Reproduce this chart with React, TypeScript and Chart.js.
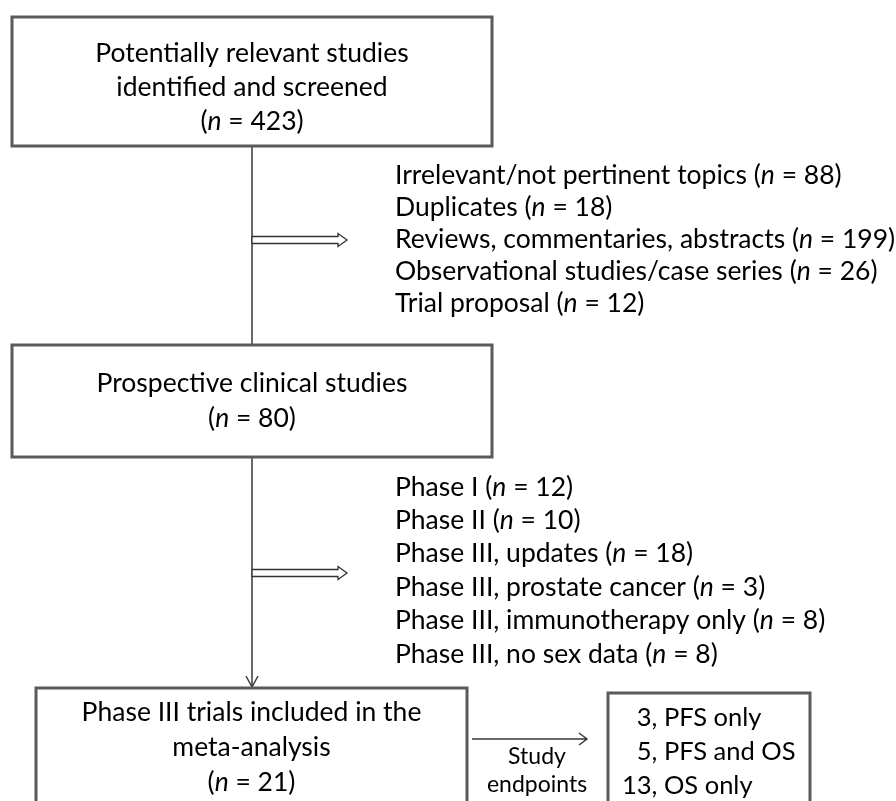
import React, { useEffect, useRef } from 'react';
import { Chart, registerables } from 'chart.js';
Chart.register(...registerables);

// ---- Data ----
const STAGE_LABELS: string[][] = [
  ['Potentially relevant studies', 'identified and screened'],
  ['Prospective clinical studies'],
  ['Phase III trials included in the', 'meta-analysis'],
];
const STAGE_N = [423, 80, 21];

const EXCLUDED_1_LABELS = [
  'Irrelevant/not pertinent topics',
  'Duplicates',
  'Reviews, commentaries, abstracts',
  'Observational studies/case series',
  'Trial proposal',
];
const EXCLUDED_1_N = [88, 18, 199, 26, 12];

const EXCLUDED_2_LABELS = [
  'Phase I',
  'Phase II',
  'Phase III, updates',
  'Phase III, prostate cancer',
  'Phase III, immunotherapy only',
  'Phase III, no sex data',
];
const EXCLUDED_2_N = [12, 10, 18, 3, 8, 8];

const ENDPOINT_N = [3, 5, 13];
const ENDPOINT_LABELS = ['PFS only', 'PFS and OS', 'OS only'];
const ENDPOINT_CAPTION = ['Study', 'endpoints'];

// ---- Layout (in scale units) ----
const W = 896;
const H = 801;
const FONT = 'Lato, "Open Sans", sans-serif';
const MAIN_SIZE = 26.5;
const STAGE_BOXES = [
  { x0: 12, x1: 492, y0: 17, y1: 146, firstLine: 53, lineH: 34 },
  { x0: 12, x1: 492, y0: 345, y1: 457, firstLine: 383, lineH: 35 },
  { x0: 36, x1: 467, y0: 688, y1: 840, firstLine: 712, lineH: 35 },
];
const ENDPOINT_BOX = { x0: 608, x1: 810, y0: 693, y1: 840, firstLine: 718, lineH: 34 };
const LIST1 = { x: 395, y: 175, lineH: 32 };
const LIST2 = { x: 395, y: 487, lineH: 33.4 };
const SPINE_X = 252;

function nText(n: number) {
  return '(*n* = ' + n + ')';
}

function drawRich(ctx: CanvasRenderingContext2D, str: string, x: number, y: number, align: 'left' | 'center' | 'right', size: number) {
  const segs = str.split('*');
  const widths: number[] = [];
  let total = 0;
  segs.forEach((s, i) => {
    ctx.font = (i % 2 === 1 ? 'italic ' : '') + size + 'px ' + FONT;
    const w = ctx.measureText(s).width;
    widths.push(w);
    total += w;
  });
  let cx = align === 'left' ? x : align === 'center' ? x - total / 2 : x - total;
  ctx.textAlign = 'left';
  ctx.textBaseline = 'middle';
  ctx.fillStyle = '#000';
  segs.forEach((s, i) => {
    ctx.font = (i % 2 === 1 ? 'italic ' : '') + size + 'px ' + FONT;
    ctx.fillText(s, cx, y);
    cx += widths[i];
  });
}

const flowPlugin = {
  id: 'flow',
  afterDraw(chart: any) {
    const ctx: CanvasRenderingContext2D = chart.ctx;
    const sx = chart.scales.x;
    const sy = chart.scales.y;
    const px = (v: number) => sx.getPixelForValue(v);
    const py = (v: number) => sy.getPixelForValue(v);
    ctx.save();
    ctx.fillStyle = '#fff';
    ctx.fillRect(0, 0, chart.width, chart.height);

    // connectors
    ctx.strokeStyle = '#3a3a3a';
    ctx.lineWidth = 1.5;
    ctx.beginPath();
    ctx.moveTo(px(SPINE_X), py(STAGE_BOXES[0].y1));
    ctx.lineTo(px(SPINE_X), py(STAGE_BOXES[1].y0));
    ctx.moveTo(px(SPINE_X), py(STAGE_BOXES[1].y1));
    ctx.lineTo(px(SPINE_X), py(STAGE_BOXES[2].y0 - 1));
    ctx.stroke();
    // arrowhead (open V)
    ctx.beginPath();
    ctx.moveTo(px(SPINE_X - 6), py(STAGE_BOXES[2].y0 - 12));
    ctx.lineTo(px(SPINE_X), py(STAGE_BOXES[2].y0 - 1));
    ctx.lineTo(px(SPINE_X + 6), py(STAGE_BOXES[2].y0 - 12));
    ctx.stroke();

    // hollow block arrows
    const block = (yc: number) => {
      ctx.beginPath();
      ctx.moveTo(px(SPINE_X), py(yc - 3.5));
      ctx.lineTo(px(338), py(yc - 3.5));
      ctx.lineTo(px(338), py(yc - 6.5));
      ctx.lineTo(px(347), py(yc));
      ctx.lineTo(px(338), py(yc + 6.5));
      ctx.lineTo(px(338), py(yc + 3.5));
      ctx.lineTo(px(SPINE_X), py(yc + 3.5));
      ctx.closePath();
      ctx.fillStyle = '#fff';
      ctx.fill();
      ctx.strokeStyle = '#333';
      ctx.lineWidth = 1.3;
      ctx.stroke();
    };
    block(240);
    block(573);

    // horizontal arrow to endpoints
    ctx.strokeStyle = '#3a3a3a';
    ctx.lineWidth = 1.5;
    ctx.beginPath();
    ctx.moveTo(px(472), py(739));
    ctx.lineTo(px(587), py(739));
    ctx.moveTo(px(579), py(733));
    ctx.lineTo(px(587), py(739));
    ctx.lineTo(px(579), py(745));
    ctx.stroke();

    // boxes
    ctx.strokeStyle = '#5a5a5a';
    ctx.lineWidth = 3;
    [...STAGE_BOXES, ENDPOINT_BOX].forEach((b) => {
      ctx.strokeRect(px(b.x0), py(b.y0), px(b.x1) - px(b.x0), py(b.y1) - py(b.y0));
    });

    // stage texts
    STAGE_BOXES.forEach((b, i) => {
      const lines = [...STAGE_LABELS[i], nText(STAGE_N[i])];
      const cx = (b.x0 + b.x1) / 2;
      lines.forEach((l, j) => drawRich(ctx, l, px(cx), py(b.firstLine + j * b.lineH), 'center', MAIN_SIZE));
    });

    // exclusion lists
    EXCLUDED_1_LABELS.forEach((l, i) => {
      drawRich(ctx, l + ' ' + nText(EXCLUDED_1_N[i]), px(LIST1.x), py(LIST1.y + i * LIST1.lineH), 'left', MAIN_SIZE);
    });
    EXCLUDED_2_LABELS.forEach((l, i) => {
      drawRich(ctx, l + ' ' + nText(EXCLUDED_2_N[i]), px(LIST2.x), py(LIST2.y + i * LIST2.lineH), 'left', MAIN_SIZE);
    });

    // caption
    ENDPOINT_CAPTION.forEach((l, i) => drawRich(ctx, l, px(537), py(757 + i * 28), 'center', 23));

    // endpoint box
    ctx.font = '25.5px ' + FONT;
    const numRight = ENDPOINT_BOX.x0 + 14 + ctx.measureText('13').width;
    ENDPOINT_N.forEach((n, i) => {
      const y = py(ENDPOINT_BOX.firstLine + i * ENDPOINT_BOX.lineH);
      drawRich(ctx, String(n), px(numRight), y, 'right', 25.5);
      drawRich(ctx, ', ' + ENDPOINT_LABELS[i], px(numRight), y, 'left', 25.5);
    });

    ctx.restore();
  },
};

export default function App() {
  const ref = useRef<HTMLCanvasElement>(null);
  useEffect(() => {
    document.body.style.margin = '0';
    const chart = new Chart(ref.current as HTMLCanvasElement, {
      type: 'scatter',
      data: { datasets: [{ data: [] }] },
      options: {
        animation: false,
        responsive: false,
        events: [],
        layout: { padding: 0 },
        plugins: { legend: { display: false }, tooltip: { enabled: false } },
        scales: {
          x: { type: 'linear', min: 0, max: W, display: false },
          y: { type: 'linear', min: 0, max: H, reverse: true, display: false },
        },
      },
      plugins: [flowPlugin],
    });
    return () => chart.destroy();
  }, []);
  return (
    <div style={{ width: W, height: H }}>
      <canvas ref={ref} width={W} height={H} style={{ display: 'block' }} />
    </div>
  );
}
